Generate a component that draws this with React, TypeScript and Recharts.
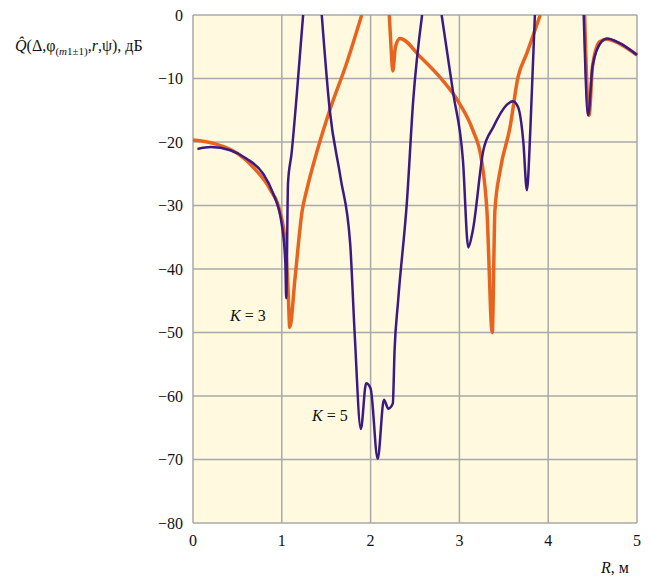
import { LineChart, Line, XAxis, YAxis, CartesianGrid } from "recharts";

// R, m  (null = break, the curve leaves the top of the plot)
const k3R = [0, 0.25, 0.5, 0.7, 0.87, 0.98, 1.04, 1.07, 1.09, 1.15, 1.23, 1.28, 1.4, 1.54, 1.73, 1.9,
  2.0,
  2.21, 2.23, 2.25, 2.28, 2.33, 2.56, 2.78, 3.0, 3.15, 3.25, 3.31, 3.37, 3.4, 3.46, 3.57, 3.66, 3.76, 3.91,
  4.2,
  4.41, 4.46, 4.5, 4.58, 4.66, 4.8, 5.0];
const k3Q = [-19.7, -20.3, -21.8, -24.3, -27.5, -31, -36, -43, -49.2, -41.3, -30.8, -27.6, -21.3, -15, -7.6, 0,
  null,
  0, -5, -8.8, -5, -3.7, -6.6, -9.8, -13.9, -18.1, -22.9, -30.8, -50, -30.8, -24.4, -17.7, -9.8, -6, 0,
  null,
  0, -15.8, -8, -4.2, -3.8, -4.5, -6.3];

const k5R = [0.05, 0.2, 0.42, 0.6, 0.79, 0.9, 1.0, 1.04, 1.05, 1.07, 1.11, 1.17, 1.24,
  1.35,
  1.45, 1.54, 1.66, 1.77, 1.82, 1.89, 1.95, 2.0, 2.08, 2.15, 2.2, 2.25, 2.27, 2.31, 2.41, 2.48, 2.58,
  2.7,
  2.8, 2.93, 3.04, 3.1, 3.15, 3.27, 3.38, 3.53, 3.6, 3.66, 3.72, 3.76, 3.8, 3.85,
  4.1,
  4.4, 4.45, 4.5, 4.6, 4.66, 4.8, 5.0];
const k5Q = [-21.1, -20.8, -21.3, -22.6, -25, -28, -33, -39, -44.6, -26.5, -21.8, -12.3, 0,
  null,
  0, -15, -25.5, -36, -50, -65.2, -58, -58.8, -69.9, -60.6, -62, -61.2, -52.8, -45, -29.2, -13.4, 0,
  null,
  0, -12.3, -22.9, -36.6, -34, -21.3, -17.7, -14.2, -13.6, -14.5, -20, -27.6, -17.7, 0,
  null,
  0, -15.8, -8, -4.2, -3.7, -4.4, -6.3];

const xTicks = [0, 1, 2, 3, 4, 5];
const yTicks = [-80, -70, -60, -50, -40, -30, -20, -10, 0];

const k3 = k3R.map((r, i) => ({ r, q: k3Q[i] }));
const k5 = k5R.map((r, i) => ({ r, q: k5Q[i] }));

const serif = "Liberation Serif, Times New Roman, Tinos, DejaVu Serif, Noto Serif, serif";
const tickStyle = { fill: "#111", fontSize: 16, fontFamily: serif };

const fmt = (v: number) => (v < 0 ? `\u2212${Math.abs(v)}` : `${v}`);

export default function App() {
  return (
    <div style={{ position: "absolute", left: 0, top: 0, width: 651, height: 581, background: "#fff", fontFamily: serif }}>
      <LineChart width={651} height={581} margin={{ top: 15, right: 14, bottom: 28, left: 0 }}>
        <CartesianGrid stroke="#a9a9a9" strokeWidth={1.5} fill="#fffadf" fillOpacity={1} />
        <XAxis
          type="number"
          dataKey="r"
          domain={[0, 5]}
          ticks={xTicks}
          height={30}
          tickLine={false}
          axisLine={false}
          tickSize={0}
          tickMargin={12}
          tick={tickStyle}
          allowDuplicatedCategory={false}
        />
        <YAxis
          type="number"
          domain={[-80, 0]}
          ticks={yTicks}
          width={193}
          allowDataOverflow
          tickLine={false}
          axisLine={false}
          tickSize={0}
          tickMargin={10}
          tick={tickStyle}
          tickFormatter={fmt}
        />
        <Line data={k3} dataKey="q" type="monotone" stroke="#e8641e" strokeWidth={3.5} dot={false} isAnimationActive={false} />
        <Line data={k5} dataKey="q" type="monotone" stroke="#3b1a83" strokeWidth={2.5} dot={false} isAnimationActive={false} />
      </LineChart>
      <div style={{ position: "absolute", left: 15, top: 37, fontSize: 16, whiteSpace: "nowrap", color: "#111" }}>
        <i>Q&#770;</i>(Δ,φ<sub style={{ fontSize: 11 }}>(<i>m</i>1±1)</sub>,<i>r</i>,ψ), дБ
      </div>
      <div style={{ position: "absolute", left: 230, top: 307, fontSize: 16, whiteSpace: "nowrap", color: "#111" }}>
        <i>K</i> = 3
      </div>
      <div style={{ position: "absolute", left: 312, top: 407, fontSize: 16, whiteSpace: "nowrap", color: "#111" }}>
        <i>K</i> = 5
      </div>
      <div style={{ position: "absolute", left: 601, top: 559, fontSize: 16, whiteSpace: "nowrap", color: "#111" }}>
        <i>R</i>, м
      </div>
    </div>
  );
}
